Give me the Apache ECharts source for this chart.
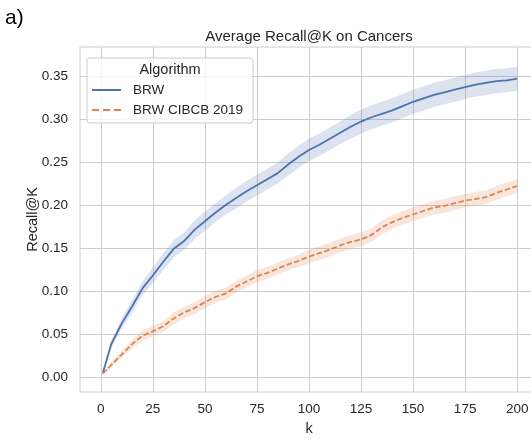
<!DOCTYPE html>
<html>
<head>
<meta charset="utf-8">
<script src="https://cdn.jsdelivr.net/npm/echarts@6/dist/echarts.min.js"></script>
<style>
html,body{margin:0;padding:0;background:#fff;}
#chart{width:531px;height:439px;}
</style>
</head>
<body>
<div id="chart"></div>
<script>
// ---- data ----
const kValues = [1,5,10,15,20,25,30,35,40,45,50,55,60,65,70,75,80,85,90,95,100,105,110,115,120,125,130,135,140,145,150,155,160,165,170,175,180,185,190,195,200];
const brwMean = [0.005,0.038,0.062,0.082,0.103,0.118,0.134,0.149,0.158,0.171,0.181,0.191,0.200,0.208,0.216,0.223,0.230,0.237,0.247,0.256,0.264,0.270,0.277,0.284,0.291,0.297,0.302,0.306,0.310,0.315,0.320,0.324,0.328,0.331,0.334,0.337,0.340,0.342,0.344,0.345,0.347];
const brwCi = [0.001,0.004,0.006,0.007,0.008,0.009,0.010,0.010,0.010,0.011,0.011,0.011,0.011,0.012,0.012,0.012,0.012,0.012,0.013,0.013,0.013,0.013,0.013,0.013,0.014,0.014,0.014,0.014,0.014,0.014,0.014,0.014,0.014,0.014,0.014,0.014,0.014,0.014,0.014,0.014,0.014];
const cibcbMean = [0.004,0.014,0.026,0.038,0.048,0.053,0.059,0.068,0.075,0.080,0.087,0.093,0.097,0.105,0.111,0.117,0.121,0.126,0.131,0.135,0.140,0.144,0.148,0.153,0.157,0.160,0.165,0.174,0.180,0.185,0.189,0.193,0.197,0.199,0.202,0.205,0.207,0.209,0.214,0.218,0.222];
const cibcbCi = [0.001,0.003,0.004,0.005,0.006,0.006,0.006,0.007,0.007,0.007,0.007,0.007,0.007,0.007,0.007,0.007,0.007,0.007,0.007,0.007,0.008,0.008,0.008,0.008,0.008,0.008,0.008,0.008,0.008,0.008,0.008,0.008,0.008,0.008,0.008,0.008,0.008,0.008,0.008,0.008,0.008];
const xTicks = [0,25,50,75,100,125,150,175,200];
const yTicks = [0,0.05,0.10,0.15,0.20,0.25,0.30,0.35];
const seriesNames = ['BRW','BRW CIBCB 2019'];

const BLUE = '#4c72b0', ORANGE = '#dd8452';
const FONT = 'Liberation Sans, Arial, sans-serif';
const TXT = '#262626';

function pairs(vals){ return kValues.map((k,i)=>[k, vals[i]]); }

// confidence band: polygon through the band edges, placed with the axis scales (api.coord)
function band(mean, ci, color){
  const rows = kValues.map((k,i)=>[k, mean[i]-ci[i], mean[i]+ci[i]]);
  return {
    type:'custom', silent:true, z:1, clip:true,
    data: rows,
    encode:{x:0, y:[1,2]},
    renderItem: function(params, api){
      if (params.dataIndex !== 0) return null;
      const upper = rows.map(r=>api.coord([r[0], r[2]]));
      const lower = rows.map(r=>api.coord([r[0], r[1]])).reverse();
      return {
        type:'polygon',
        shape:{points: upper.concat(lower)},
        style:{fill: color, opacity:0.2}
      };
    }
  };
}

const chart = echarts.init(document.getElementById('chart'), null, {renderer:'canvas'});
chart.setOption({
  animation:false,
  backgroundColor:'#fff',
  textStyle:{fontFamily:FONT},
  title:[
    {text:'Average Recall@K on Cancers', left:309, top:29, textAlign:'center', padding:0,
     textStyle:{fontFamily:FONT, fontSize:15, fontWeight:'normal', color:TXT}},
    {text:'a)', left:5, top:8, padding:0, textStyle:{fontFamily:FONT, fontSize:21, fontWeight:'normal', color:'#000'}},
    {text:'Algorithm', left:170, top:62, textAlign:'center', padding:0,
     textStyle:{fontFamily:FONT, fontSize:14.5, fontWeight:'normal', color:TXT}}
  ],
  legend:{
    data:[
      {name:seriesNames[0], icon:'path://M0,0H29V2H0Z', itemStyle:{color:BLUE}},
      {name:seriesNames[1], icon:'path://M0,0H7V2H0ZM11,0H18V2H11ZM22,0H29V2H22Z', itemStyle:{color:ORANGE}}
    ],
    orient:'vertical', left:87, top:58,
    padding:[25,10,6,5], itemGap:6, itemWidth:29, itemHeight:2,
    backgroundColor:'rgba(255,255,255,0.8)', borderColor:'#cccccc', borderWidth:1, borderRadius:3,
    textStyle:{fontFamily:FONT, fontSize:13.5, color:TXT, lineHeight:14, padding:[0,0,0,7]}
  },
  grid:{left:80, top:47, height:345, width:458, outerBoundsMode:'none',
        show:true, borderColor:'#cccccc', borderWidth:1, backgroundColor:'transparent', containLabel:false},
  xAxis:{
    type:'value', min:-10, max:210,
    name:'k', nameLocation:'middle', nameGap:29, nameMoveOverlap:false,
    nameTextStyle:{fontFamily:FONT, fontSize:14.5, color:TXT},
    axisLine:{show:false}, axisTick:{show:false, customValues:xTicks},
    axisLabel:{customValues:xTicks, fontFamily:FONT, fontSize:13.5, color:TXT, margin:10},
    splitLine:{show:true, lineStyle:{color:'#cccccc', width:1}}
  },
  yAxis:{
    type:'value', min:-0.0175, max:0.3837,
    name:'Recall@K', nameLocation:'middle', nameGap:40, nameMoveOverlap:false,
    nameTextStyle:{fontFamily:FONT, fontSize:14.5, color:TXT},
    axisLine:{show:false}, axisTick:{show:false, customValues:yTicks},
    axisLabel:{customValues:yTicks, fontFamily:FONT, fontSize:13.5, color:TXT, margin:12,
               formatter:v=>v.toFixed(2)},
    splitLine:{show:true, lineStyle:{color:'#cccccc', width:1}}
  },
  series:[
    band(brwMean, brwCi, BLUE),
    band(cibcbMean, cibcbCi, ORANGE),
    {name:seriesNames[0], type:'line', data:pairs(brwMean), symbol:'none', showSymbol:false,
     color:BLUE, lineStyle:{color:BLUE, width:1.8}, z:3},
    {name:seriesNames[1], type:'line', data:pairs(cibcbMean), symbol:'none', showSymbol:false,
     color:ORANGE, lineStyle:{color:ORANGE, width:1.8, type:[5.5,2.5]}, z:3}
  ]
});
</script>
</body>
</html>
